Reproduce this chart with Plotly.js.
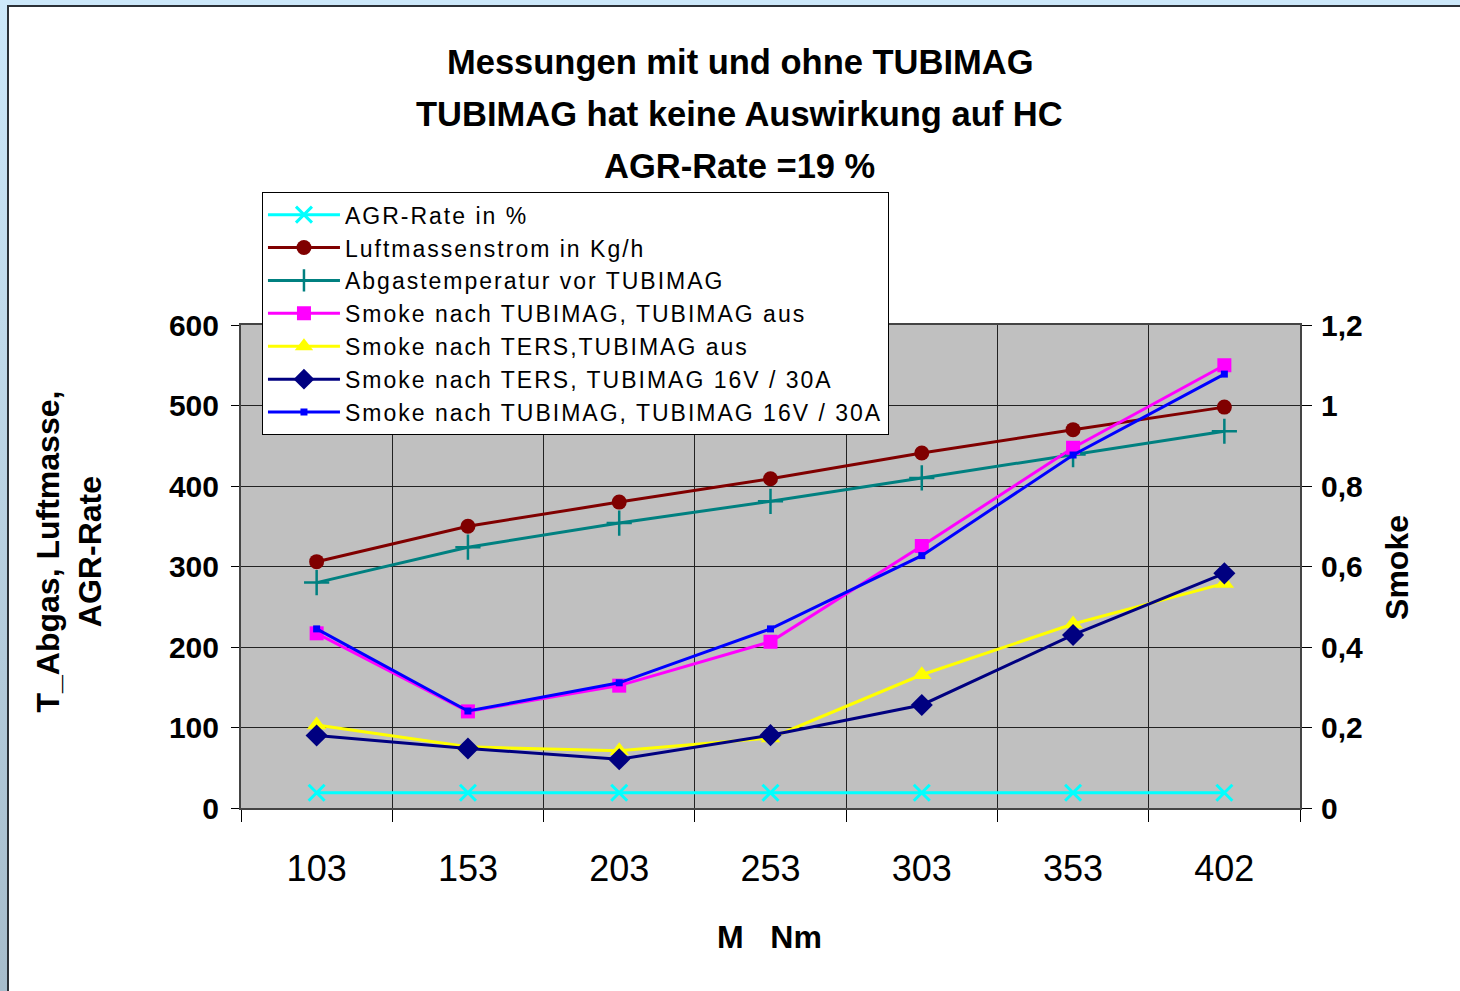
<!DOCTYPE html>
<html>
<head>
<meta charset="utf-8">
<script src="https://cdn.plot.ly/plotly-3.0.1.min.js"></script>
<style>
  html, body { margin: 0; padding: 0; width: 1460px; height: 991px; overflow: hidden; background: #cce8fa; }
  #frame { position: absolute; left: 7px; top: 5px; width: 1453px; height: 986px; background: #ffffff;
           border-left: 2px solid #2b3137; border-top: 2px solid #2b3137; box-sizing: border-box; }
  #leftstrip { position: absolute; left: 0; top: 0; width: 7px; height: 991px;
               background: linear-gradient(#cce8fa, #a6bccb); }
  #chart { position: absolute; left: 0; top: 0; width: 1460px; height: 991px; }
  .legendtext { letter-spacing: 2px; }
</style>
</head>
<body>
<div id="leftstrip"></div>
<div id="frame"></div>
<div id="chart"></div>
<script>
const categories = ["103", "153", "203", "253", "303", "353", "402"];

const agrRate        = [19, 19, 19, 19, 19, 19, 19];
const luftmassen     = [306, 350, 380, 409, 441, 470, 498];
const abgastemp      = [280, 324, 354, 381, 410, 439, 468];
const smokeTubAus    = [0.434, 0.240, 0.304, 0.413, 0.651, 0.895, 1.100];
const smokeTersAus   = [0.206, 0.152, 0.142, 0.174, 0.331, 0.457, 0.558];
const smokeTersAn    = [0.180, 0.148, 0.121, 0.181, 0.256, 0.430, 0.583];
const smokeTubAn     = [0.445, 0.241, 0.311, 0.445, 0.627, 0.877, 1.078];

const seriesNames = [
  "AGR-Rate in %",
  "Luftmassenstrom in Kg/h",
  "Abgastemperatur vor TUBIMAG",
  "Smoke nach TUBIMAG, TUBIMAG aus",
  "Smoke nach TERS,TUBIMAG aus",
  "Smoke nach TERS, TUBIMAG 16V / 30A",
  "Smoke nach TUBIMAG, TUBIMAG 16V / 30A"
];

const titleLines = ["Messungen mit und ohne TUBIMAG", "TUBIMAG hat keine Auswirkung auf HC", "AGR-Rate =19 %"];

function tr(name, y, color, symbol, size, yaxis, extraMarker) {
  const m = Object.assign({ symbol: symbol, size: size, color: color, line: { color: color, width: 0 } }, extraMarker || {});
  return {
    type: "scatter", mode: "lines+markers", name: name,
    x: categories, y: y, yaxis: yaxis,
    line: { color: color, width: 3 },
    marker: m
  };
}

const data = [
  tr(seriesNames[0], agrRate, "#00ffff", "x-thin-open", 16, "y", { line: { color: "#00ffff", width: 3 } }),
  tr(seriesNames[1], luftmassen, "#800000", "circle", 15, "y"),
  tr(seriesNames[2], abgastemp, "#008080", "cross-thin-open", 18, "y", { line: { color: "#008080", width: 2.5 } }),
  tr(seriesNames[3], smokeTubAus, "#ff00ff", "square", 14, "y2"),
  tr(seriesNames[4], smokeTersAus, "#ffff00", "triangle-up", 17, "y2"),
  tr(seriesNames[5], smokeTersAn, "#000080", "diamond", 17, "y2"),
  tr(seriesNames[6], smokeTubAn, "#0000ff", "square", 7, "y2")
];

const FAM = "Liberation Sans, Arial, sans-serif";
const tickFont = { family: FAM, size: 30, color: "#000", weight: "bold" };

const layout = {
  width: 1460, height: 991,
  margin: { l: 241, r: 160, t: 325, b: 183, pad: 0 },
  paper_bgcolor: "rgba(0,0,0,0)",
  plot_bgcolor: "#c0c0c0",
  font: { family: FAM, color: "#000" },
  showlegend: true,
  legend: {
    x: 0.0198, y: 1.275, xanchor: "left", yanchor: "top",
    bgcolor: "#ffffff", bordercolor: "#000", borderwidth: 1,
    font: { family: FAM, size: 23, color: "#000" },
    itemwidth: 72,
    tracegroupgap: 0
  },
  xaxis: {
    type: "category",
    range: [-0.5, 6.5],
    tickson: "boundaries",
    ticks: "outside", ticklen: 12, tickcolor: "#000", tickwidth: 1,
    showgrid: true, gridcolor: "#222", gridwidth: 1,
    showline: true, linecolor: "#444", linewidth: 2, mirror: true,
    tickfont: { family: FAM, size: 36, color: "#000" },
    ticklabelstandoff: 28,
    zeroline: false
  },
  yaxis: {
    range: [0, 600], dtick: 100, tick0: 0,
    ticks: "outside", ticklen: 8, tickcolor: "#000",
    showgrid: true, gridcolor: "#222", gridwidth: 1,
    showline: true, linecolor: "#444", linewidth: 2, mirror: true,
    tickfont: tickFont, ticklabelstandoff: 6,
    zeroline: false
  },
  yaxis2: {
    overlaying: "y", side: "right",
    range: [0, 1.2], dtick: 0.2, tick0: 0,
    ticks: "outside", ticklen: 10, tickcolor: "#000",
    showgrid: false, showline: true, linecolor: "#444", linewidth: 2,
    tickfont: tickFont, ticklabelstandoff: 3,
    zeroline: false
  },
  separators: ",.",
  annotations: [
    { text: titleLines[0], xref: "paper", yref: "paper", x: 0.471, y: 1.5445, showarrow: false, xanchor: "center", yanchor: "middle",
      font: { size: 34.5, weight: "bold", family: FAM, color: "#000" } },
    { text: titleLines[1], xref: "paper", yref: "paper", x: 0.471, y: 1.437, showarrow: false, xanchor: "center", yanchor: "middle",
      font: { size: 34.5, weight: "bold", family: FAM, color: "#000" } },
    { text: titleLines[2], xref: "paper", yref: "paper", x: 0.471, y: 1.329, showarrow: false, xanchor: "center", yanchor: "middle",
      font: { size: 34.5, weight: "bold", family: FAM, color: "#000" } },
    { text: "T_Abgas, Luftmasse,<br>AGR-Rate", xref: "paper", yref: "paper", x: -0.162, y: 0.532, textangle: -90,
      showarrow: false, xanchor: "center", yanchor: "middle",
      font: { size: 32, weight: "bold", family: FAM, color: "#000" } },
    { text: "Smoke", xref: "paper", yref: "paper", x: 1.0916, y: 0.497, textangle: -90,
      showarrow: false, xanchor: "center", yanchor: "middle",
      font: { size: 32, weight: "bold", family: FAM, color: "#000" } },
    { text: "M\u00a0\u00a0\u00a0Nm", xref: "paper", yref: "paper", x: 0.4995, y: -0.267,
      showarrow: false, xanchor: "center", yanchor: "middle",
      font: { size: 32, weight: "bold", family: FAM, color: "#000" } }
  ]
};

Plotly.newPlot("chart", data, layout, { displayModeBar: false, staticPlot: true });
</script>
</body>
</html>
